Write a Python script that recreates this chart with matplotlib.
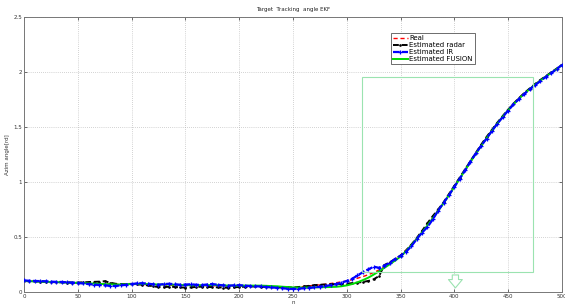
import numpy as np
import matplotlib
matplotlib.use("Agg")
import matplotlib.pyplot as plt
from matplotlib.patches import Rectangle

n = np.arange(0, 501, 5)

real = [0.100,0.098,0.097,0.095,0.093,0.092,0.090,0.088,0.087,0.085,
        0.083,0.081,0.079,0.077,0.076,0.074,0.072,0.071,0.070,0.070,
        0.070,0.069,0.068,0.067,0.066,0.065,0.064,0.063,0.062,0.061,
        0.060,0.060,0.059,0.058,0.058,0.057,0.056,0.056,0.055,0.055,
        0.054,0.053,0.052,0.051,0.050,0.049,0.047,0.046,0.044,0.043,
        0.042,0.045,0.050,0.055,0.060,0.065,0.070,0.077,0.084,0.092,
        0.100,0.112,0.125,0.140,0.157,0.177,0.200,0.228,0.260,0.295,
        0.335,0.380,0.430,0.485,0.545,0.608,0.673,0.742,0.812,0.885,
        0.960,1.035,1.110,1.185,1.260,1.332,1.402,1.470,1.535,1.597,
        1.655,1.710,1.760,1.806,1.848,1.887,1.924,1.959,1.993,2.027,
        2.068]

radar = [0.100,0.098,0.096,0.095,0.093,0.091,0.089,0.088,0.086,0.085,
         0.086,0.088,0.090,0.092,0.094,0.098,0.085,0.075,0.070,0.072,
         0.074,0.070,0.066,0.060,0.052,0.045,0.044,0.048,0.046,0.042,
         0.040,0.042,0.046,0.048,0.046,0.044,0.042,0.040,0.038,0.042,
         0.046,0.048,0.050,0.050,0.048,0.046,0.044,0.043,0.042,0.041,
         0.040,0.045,0.050,0.056,0.062,0.066,0.068,0.070,0.072,0.074,
         0.076,0.080,0.085,0.092,0.100,0.115,0.145,0.245,0.270,0.300,
         0.330,0.375,0.430,0.490,0.555,0.625,0.690,0.750,0.815,0.890,
         0.965,1.040,1.115,1.190,1.265,1.340,1.410,1.475,1.540,1.600,
         1.658,1.712,1.762,1.808,1.850,1.890,1.928,1.962,1.996,2.030,
         2.062]

ir = [0.105,0.102,0.100,0.099,0.097,0.094,0.092,0.091,0.088,0.086,
      0.082,0.078,0.072,0.068,0.064,0.060,0.056,0.055,0.060,0.066,
      0.072,0.078,0.080,0.076,0.070,0.066,0.072,0.075,0.070,0.066,
      0.068,0.070,0.066,0.063,0.068,0.072,0.066,0.060,0.058,0.060,
      0.062,0.058,0.054,0.052,0.050,0.046,0.042,0.038,0.034,0.030,
      0.028,0.030,0.034,0.038,0.042,0.048,0.055,0.062,0.072,0.085,
      0.100,0.120,0.150,0.180,0.205,0.230,0.220,0.240,0.265,0.300,
      0.330,0.365,0.415,0.480,0.540,0.590,0.660,0.740,0.810,0.880,
      0.955,1.030,1.105,1.185,1.260,1.330,1.395,1.465,1.530,1.590,
      1.650,1.705,1.755,1.800,1.842,1.880,1.918,1.955,1.990,2.025,
      2.065]

fusion = [0.100,0.098,0.097,0.095,0.093,0.091,0.090,0.088,0.086,0.084,
          0.082,0.080,0.078,0.076,0.074,0.072,0.070,0.068,0.068,0.070,
          0.072,0.074,0.074,0.072,0.070,0.068,0.068,0.068,0.066,0.064,
          0.062,0.062,0.062,0.062,0.062,0.064,0.062,0.060,0.058,0.058,
          0.058,0.058,0.058,0.058,0.058,0.056,0.054,0.052,0.048,0.045,
          0.042,0.040,0.040,0.041,0.042,0.043,0.044,0.045,0.047,0.052,
          0.060,0.072,0.088,0.108,0.130,0.158,0.188,0.220,0.252,0.286,
          0.322,0.370,0.425,0.482,0.542,0.605,0.670,0.738,0.808,0.880,
          0.955,1.030,1.106,1.182,1.256,1.328,1.398,1.466,1.532,1.594,
          1.652,1.706,1.756,1.802,1.845,1.885,1.922,1.958,1.992,2.026,
          2.062]

x_ticks = [0, 50, 100, 150, 200, 250, 300, 350, 400, 450, 500]
y_ticks = [0, 0.5, 1, 1.5, 2, 2.5]
y_tick_labels = ["0", "0.5", "1", "1.5", "2", "2.5"]

fig = plt.figure(figsize=(5.65, 3.07), dpi=100)
ax = fig.add_axes([0.0425, 0.0489, 0.952, 0.8957])

ax.plot(n, fusion, color="#00dd00", lw=1.4, label="Estimated FUSION", zorder=3)
ax.plot(n, real, color="red", ls=(0, (3, 2)), lw=1.0, label="Real", zorder=2)
ax.plot(n, radar, color="black", ls=(0, (3, 1.5)), lw=1.4, marker=".", ms=1.8,
        label="Estimated radar", zorder=2)
ax.plot(n, ir, color="blue", ls=(0, (3, 1)), lw=1.6, marker="+", ms=3.2, mew=0.9,
        label="Estimated IR", zorder=4)

ax.add_patch(Rectangle((314, 0.18), 473 - 314, 1.955 - 0.18, fill=False,
                       ec="#9be3b0", lw=0.8, zorder=5))
ax.annotate("", xy=(401, 0.012), xytext=(401, 0.18),
            arrowprops=dict(arrowstyle="simple,head_width=1.0,head_length=0.6,tail_width=0.45",
                            fc="white", ec="#9be3b0", lw=0.8), zorder=5)

ax.set_xlim(0, 500)
ax.set_ylim(0, 2.5)
ax.set_xticks(x_ticks)
ax.set_xticklabels([str(v) for v in x_ticks])
ax.set_yticks(y_ticks)
ax.set_yticklabels(y_tick_labels)
ax.tick_params(direction="in", length=2.5, width=0.6, labelsize=4, pad=1.5,
               top=True, right=True, colors="#555555", labelcolor="#333333")
ax.grid(True, ls=(0, (1, 2)), color="#aaaaaa", lw=0.5)
for s in ax.spines.values():
    s.set_color("#777777")
    s.set_linewidth(0.7)

ax.set_title("Target  Tracking  angle EKF", fontsize=4, pad=4, color="#222222")
ax.set_xlabel("n", fontsize=4, labelpad=1, color="#333333")
ax.set_ylabel("Azim angle[rd]", fontsize=4, labelpad=2, color="#333333")

handles, labels = ax.get_legend_handles_labels()
order = [1, 2, 3, 0]
leg = ax.legend([handles[i] for i in order], [labels[i] for i in order],
                loc="upper left", bbox_to_anchor=(0.675, 0.955), fontsize=5,
                handlelength=2.2, handletextpad=0.2, borderpad=0.3,
                labelspacing=0.15, fancybox=False, framealpha=1,
                edgecolor="#555555")
leg.get_frame().set_linewidth(0.6)
leg.set_zorder(6)

fig.savefig("out.png", dpi=100)
